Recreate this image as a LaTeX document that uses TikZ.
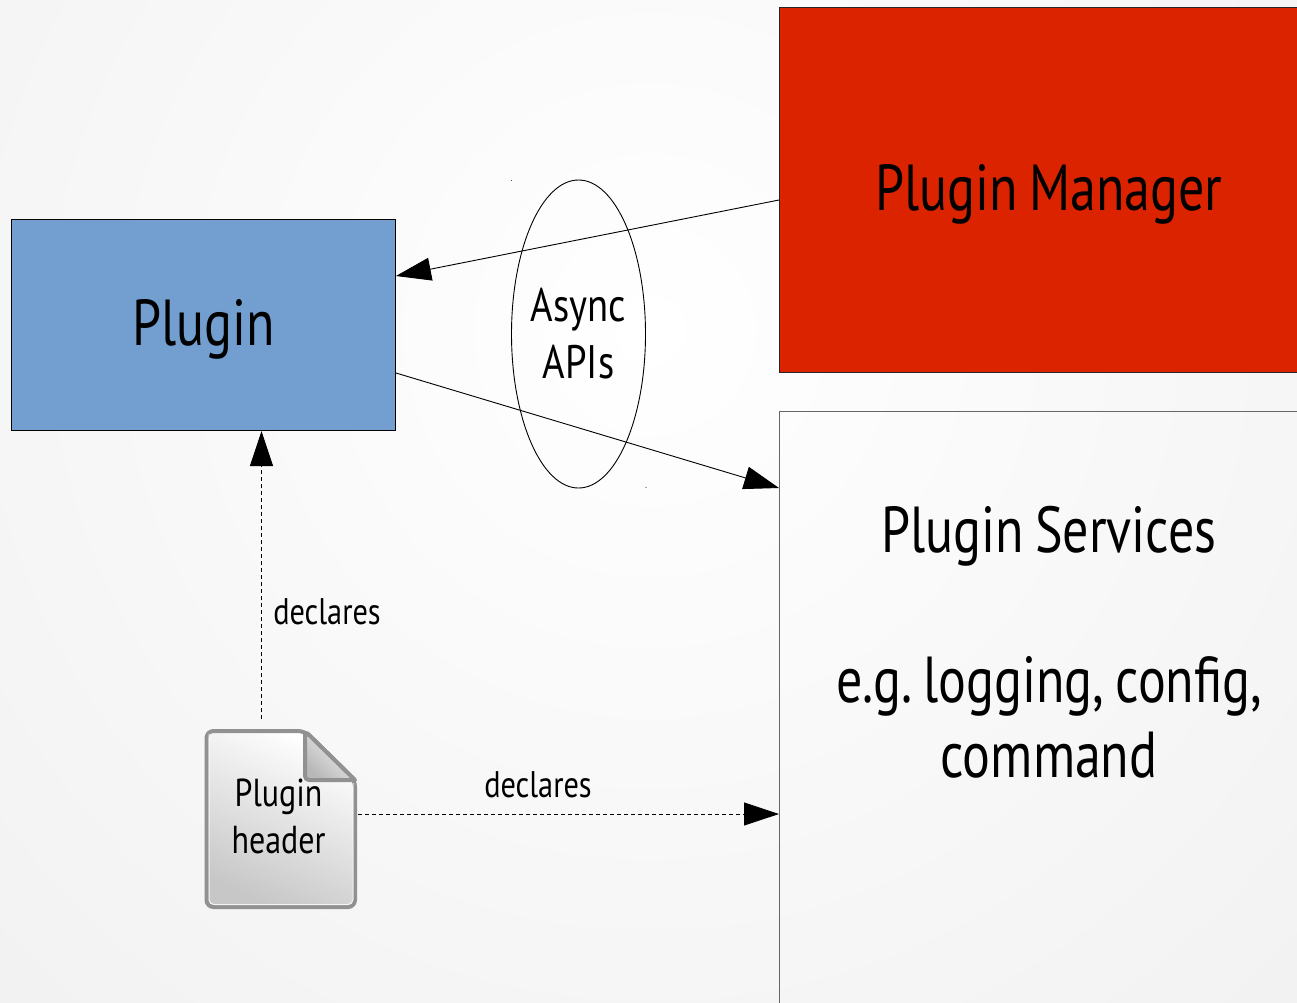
\documentclass[tikz,border=0pt]{standalone}
\usepackage{fontspec}
\setmainfont[FakeStretch=0.82,WordSpace=0.75]{PT Sans}
\newfontfamily\bigfamily[FakeStretch=0.80,WordSpace=0.8]{PT Sans}
\frenchspacing
\usetikzlibrary{arrows.meta,shapes.geometric}
\tikzset{
  x=1pt,y=-1pt,
  box/.style={draw=#1,line width=0.9pt,inner sep=0pt,anchor=north west},
  conn/.style={draw=black,line width=0.9pt,-{Triangle[length=35pt,width=23pt]}},
  dep/.style={conn,line width=0.8pt,dash pattern=on 4pt off 3pt},
  big/.style={font=\bigfamily\fontsize{65}{75}\selectfont\frenchspacing,align=center,text=black},
  mid/.style={font=\fontsize{47}{57}\selectfont,align=center,text=black},
  small/.style={font=\fontsize{37}{48}\selectfont,align=center,text=black},
  speck/.style={fill=#1,draw=none,inner sep=0pt,minimum size=1.2pt},
}
\definecolor{pluginblue}{HTML}{729FCF}
\definecolor{managerred}{HTML}{DC2300}
\begin{document}
\begin{tikzpicture}
\useasboundingbox (0,0) rectangle (1297,1002);
\clip (0,0) rectangle (1297,1002);
\shade[inner color=white,outer color=white!95!black] (-250,-570) rectangle (1550,1230);
\node[box=black,fill=pluginblue,minimum width=384pt,minimum height=211pt] (plugin) at (11,219) {};
\node[big] (pluginlabel) at (204,329) {Plugin};
\node[box=black!85,fill=managerred,minimum width=540pt,minimum height=365pt] (manager) at (779,7) {};
\node[big] (managerlabel) at (1049,194.5) {Plugin Manager};
\node[box=black!60,fill=none,minimum width=540pt,minimum height=640pt] (services) at (779,410.5) {};
\node[big] (serviceslabel) at (1049,642.5) {Plugin Services\\[75pt]e.g. logging, config,\\command};
\node[ellipse,draw=black,line width=0.9pt,minimum width=134pt,minimum height=308pt,inner sep=0pt] (async) at (578.5,334) {};
\node[mid] (asynclabel) at (578.5,334) {Async\\APIs};
\node[speck=black!70] (speckone) at (511.5,180.5) {};
\node[speck=black!35] (specktwo) at (646,487.5) {};
\coordinate (managerout) at (779,200);
\coordinate (pluginin) at (396,276);
\coordinate (pluginout) at (396,373);
\coordinate (servicesin) at (779,488);
\coordinate (servicesdep) at (779,814);
\coordinate (pluginbottom) at (261.5,431);
\coordinate (filetop) at (261.5,719);
\coordinate (fileright) at (358,814);
\draw[conn] (managerout) -- (pluginin);
\draw[conn] (pluginout) -- (servicesin);
\draw[dep] (filetop) -- (pluginbottom);
\draw[dep] (fileright) -- (servicesdep);
\node[small] (declaresa) at (327,612) {declares};
\node[small] (declaresb) at (538,785) {declares};
% file icon
\shade[top color=white,bottom color=white!78!black,shading angle=-25,draw=white!57!black,line width=4pt,line join=round,rounded corners=7pt]
  (206.5,731) -- (305,731) -- (355,780) -- (355,907) -- (206.5,907) -- cycle;
\draw[white,line width=1pt,opacity=.8,rounded corners=5pt] (353,783) -- (353,904.5) -- (209,904.5) -- (209,733.5);
\shade[top color=white!95!black,bottom color=white!72!black,shading angle=-45,draw=white!57!black,line width=4pt,line join=round]
  (305,731) -- (355,780) -- (310,780) [rounded corners=4pt] -- (305,780) -- cycle;
\node[small,font=\fontsize{39}{47}\selectfont] (filelabel) at (278.5,816) {Plugin\\header};
\end{tikzpicture}
\end{document}
